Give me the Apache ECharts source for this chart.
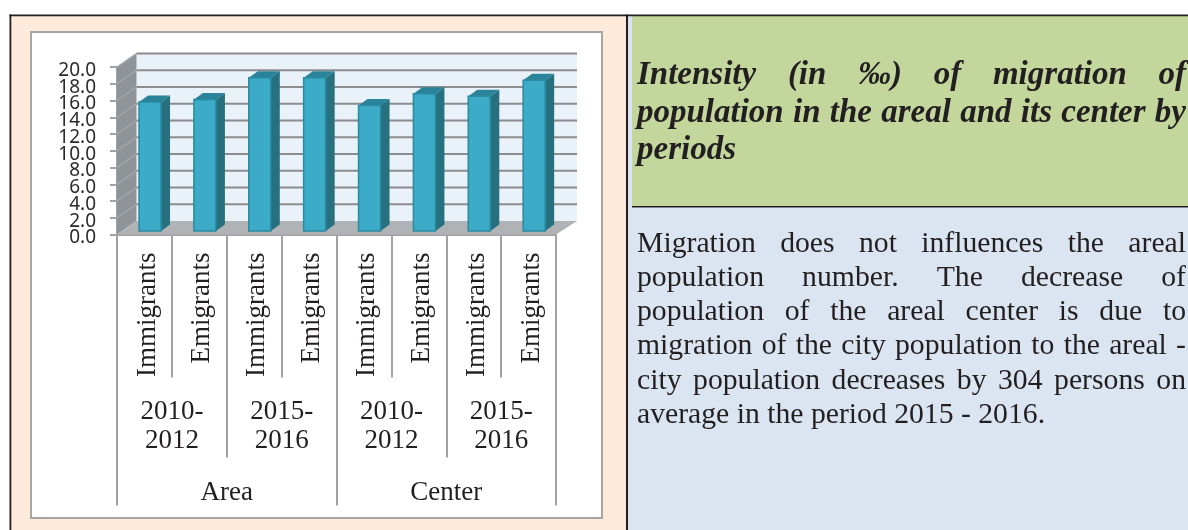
<!DOCTYPE html>
<html><head><meta charset="utf-8">
<style>html,body{margin:0;padding:0;background:#fff}#c{width:1188px;height:530px}</style>
<script src="https://cdn.jsdelivr.net/npm/echarts@6/dist/echarts.min.js"></script>
</head><body><div id="c"></div>
<script>
const subCategories = ['Immigrants','Emigrants','Immigrants','Emigrants','Immigrants','Emigrants','Immigrants','Emigrants'];
const periods = ['2010-\n2012','2015-\n2016','2010-\n2012','2015-\n2016'];
const regions = ['Area','Center'];
const intensity = [15.4,15.7,18.3,18.3,15.0,16.4,16.1,18.0];
const yTicks = [0,2,4,6,8,10,12,14,16,18,20];
const titleLines = ['Intensity (in ‰) of migration of','population in the areal and its center by','periods'];
const bodyLines = ['Migration does not influences the areal','population number. The decrease of','population of the areal center is due to','migration of the city population to the areal -','city population decreases by 304 persons on','average in the period 2015 - 2016.'];

const SERIF = '"Liberation Serif","Times New Roman",serif';
const INK = '#231f20';
const DX = 19.5, DY = -13.5;      // wall depth
const ctx = document.createElement('canvas').getContext('2d');

function justified(lines, font, left, right, ys, lastIdx) {
  const out = [];
  ctx.font = font;
  lines.forEach((line, i) => {
    const words = line.split(' ');
    const natural = words.map(w => ctx.measureText(w).width);
    const sum = natural.reduce((a, b) => a + b, 0);
    const lastLine = lastIdx.includes(i);
    const gap = lastLine ? ctx.measureText(' ').width : (right - left - sum) / (words.length - 1);
    let x = left;
    words.forEach((w, k) => {
      out.push({type:'text', z:-5, style:{text:w, x:x, y:ys[i], font:font, fill:INK, verticalAlign:'middle', align:'left'}});
      x += natural[k] + gap;
    });
  });
  return out;
}
function box(x, y, w, h, fill, stroke, lw) {
  return {type:'rect', z:-10, shape:{x:x,y:y,width:w,height:h}, style:{fill:fill, stroke:stroke||null, lineWidth:lw||0}};
}
const panels = [
  box(11,16,615,514,'#FDEADA'),
  box(31,32,571,486,'#ffffff','#A6A6A6',2),
  box(628,16,560,514,'#DBE5F1'),
  box(632,16,556,190,'#C3D69B'),
  box(632,206,556,1.4,'#231f20'),
  box(9.5,14.6,1178.5,1.6,'#231f20'),
  box(9.5,14.6,1.8,516,'#231f20'),
  box(626,14.6,2,516,'#231f20')
];
const texts = justified(titleLines,'italic bold 33px '+SERIF,637,1186,[75,113,150],[2])
  .concat(justified(bodyLines,'29.7px '+SERIF,637,1186,[244,278,312,346,381,415],[5]));

function wallItem(params, api) {
  const r = params.coordSys, x0 = r.x, x1 = r.x + r.width, top = r.y, bot = r.y + r.height;
  return {type:'group', children:[
    {type:'rect', shape:{x:x0+DX,y:top+DY,width:r.width+1.5,height:r.height}, style:{fill:'#E9F1F9'}},
    {type:'polygon', shape:{points:[[x0,top],[x0+DX,top+DY],[x0+DX,bot+DY],[x0,bot]]}, style:{fill:'#8F9499'}},
    {type:'polygon', shape:{points:[[x0,bot],[x0+DX,bot+DY],[x1+DX+1.5,bot+DY],[x1,bot]]}, style:{fill:'#AFB3B6'}}
  ]};
}
function gridItem(params, api) {
  const r = params.coordSys, v = api.value(0), y = api.coord([0, v])[1];
  const label = {type:'text', style:{text:v.toFixed(1), x:r.x-21, y:y+3.5, align:'right', verticalAlign:'middle', font:'19px "Noto Sans",sans-serif', fill:'#2b2b2b'}};
  if (v === 0) return {type:'group', children:[label]};
  return {type:'group', children:[
    {type:'line', shape:{x1:r.x,y1:y,x2:r.x+DX,y2:y+DY}, style:{stroke:'#A5A8AB',lineWidth:1.5}},
    {type:'line', shape:{x1:r.x+DX,y1:y+DY,x2:r.x+r.width+DX+1.5,y2:y+DY}, style:{stroke:'#8C8C8C',lineWidth:2}},
    label
  ]};
}
function barItem(params, api) {
  const c = api.coord([api.value(0), api.value(1)]), b = api.coord([api.value(0), 0]);
  const w = 22, dx = 9, dy = -6.5, sx = 5.6, sy = -3.5;
  const x = c[0] + sx - w/2, t = c[1] + sy, bt = b[1] + sy;
  return {type:'group', children:[
    {type:'polygon', shape:{points:[[x+w,t],[x+w+dx,t+dy],[x+w+dx,bt+dy],[x+w,bt]]}, style:{fill:'#26707F'}},
    {type:'polygon', shape:{points:[[x,t],[x+dx,t+dy],[x+w+dx,t+dy],[x+w,t]]}, style:{fill:'#2A8499'}},
    {type:'rect', shape:{x:x,y:t,width:w,height:bt-t}, style:{fill:'#3BABC8',stroke:'#2A8AA0',lineWidth:1.5}}
  ]};
}
const tierAxis = (data, tick, margin, lh, rotate, va) => ({
  type:'category', data:data, position:'bottom', offset:0,
  axisLine:{show:true,lineStyle:{color:'#A0A2A5',width:2}},
  axisTick:{show:true,length:tick,lineStyle:{color:'#A0A2A5',width:2}},
  axisLabel:{interval:0,rotate:rotate,margin:margin,fontFamily:SERIF,fontSize:27,color:INK,lineHeight:lh,hideOverlap:false,verticalAlign:va},
  splitLine:{show:false}
});
const chart = echarts.init(document.getElementById('c'));
chart.setOption({
  animation:false,
  backgroundColor:'#ffffff',
  graphic:{elements:panels.concat(texts)},
  grid:{left:117,top:67,width:439,height:167.5,containLabel:false},
  xAxis:[tierAxis(subCategories,143,18,6,90,'top'),tierAxis(periods,223,163,29,0),tierAxis(regions,271,243,30,0)],
  yAxis:{type:'value',min:0,max:20,interval:2,
    axisLine:{show:true,lineStyle:{color:'#A0A2A5',width:2}},
    axisTick:{show:true,length:7,lineStyle:{color:'#A0A2A5',width:2}},
    axisLabel:{show:false},
    splitLine:{show:false}},
  series:[
    {type:'custom',name:'walls',z:1,silent:true,coordinateSystem:'cartesian2d',data:[[0,0]],renderItem:wallItem,encode:{x:0,y:1}},
    {type:'custom',name:'grid',z:1.5,silent:true,clip:false,coordinateSystem:'cartesian2d',data:yTicks.map(v=>[v]),renderItem:gridItem,encode:{y:0}},
    {type:'custom',name:'Intensity',z:3,coordinateSystem:'cartesian2d',data:intensity.map((v,i)=>[i,v]),renderItem:barItem,encode:{x:0,y:1}}
  ]
});
</script></body></html>
